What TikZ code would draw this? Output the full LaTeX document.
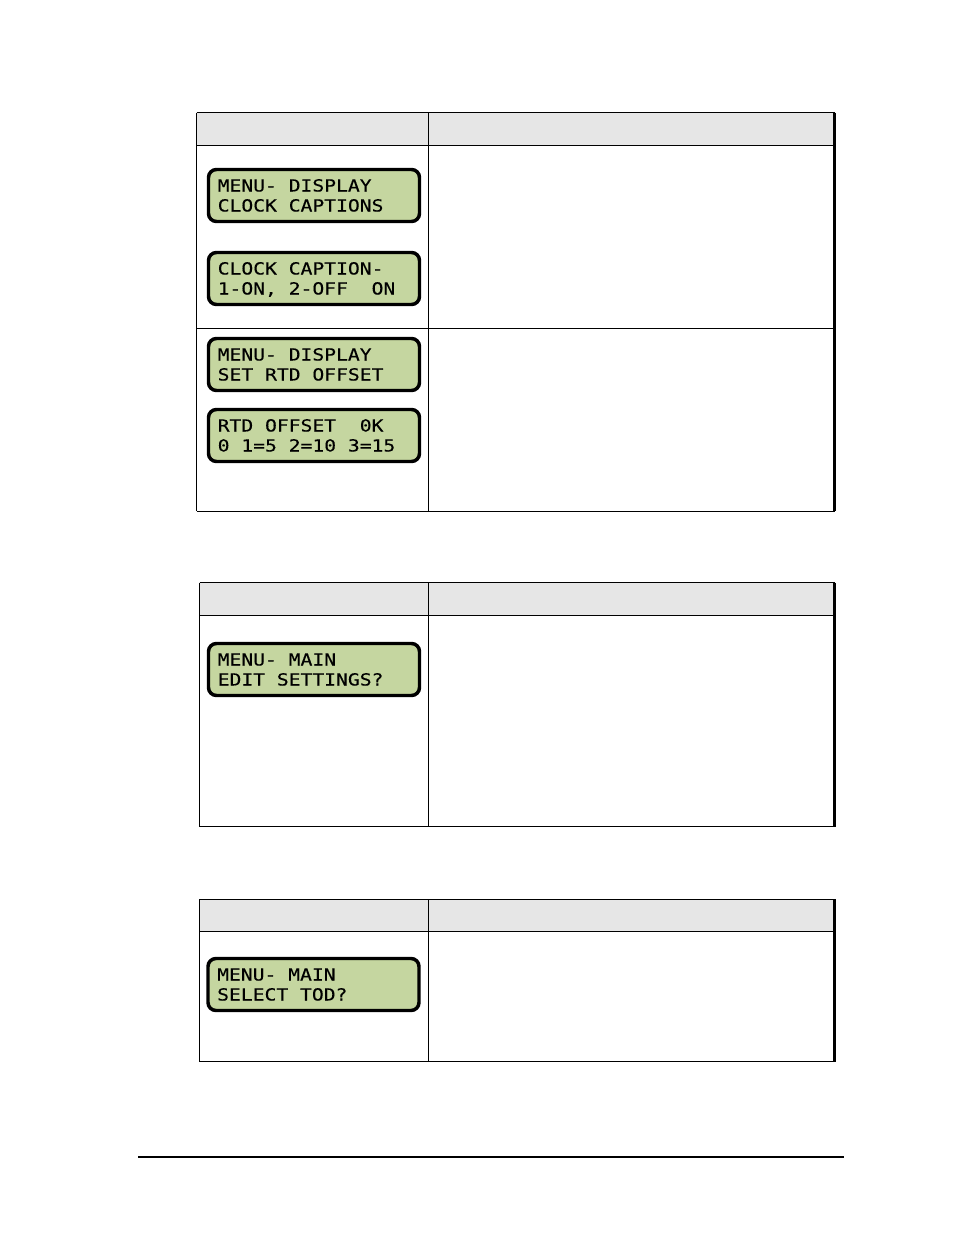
\documentclass[tikz,border=0pt]{standalone}
\usepackage{fontspec}
\newfontfamily\lcdfont[FakeStretch=1.18,FakeBold=0.3]{DejaVu Sans Mono}
\newcommand{\lcdsize}{\lcdfont\fontsize{12.5pt}{15pt}\selectfont}
\definecolor{lcdgreen}{RGB}{197,214,160}
\definecolor{headgray}{RGB}{230,230,230}
\tikzset{
  lcd/.style={draw, line width=2.6pt, rounded corners=6pt, fill=lcdgreen,
    anchor=north west, outer sep=0pt, minimum width=158.25pt,
    minimum height=39pt, inner xsep=6.9pt, inner ysep=0pt,
    text width=144.45pt, align=flush left, text height=9pt, text depth=15pt,
    font=\lcdsize},
  grid/.style={line width=0.75pt},
  edge/.style={line width=1.6pt}
}

\begin{document}
\begin{tikzpicture}[x=0.75pt,y=-0.75pt]
\useasboundingbox (0,0) rectangle (954,1235);

% first table: display menu
\fill[headgray] (196.5,112.5) rectangle (834.5,145);
\draw[grid] (196.5,112.5) -- (834.5,112.5);
\draw[grid] (196.5,145) -- (834.5,145);
\draw[grid] (196.5,328.5) -- (834.5,328.5);
\draw[grid] (196.5,511) -- (834.5,511);
\draw[grid] (196.5,112.5) -- (196.5,511);
\draw[grid] (428,112.5) -- (428,511);
\draw[edge] (834.5,112.5) -- (834.5,511);

\node[lcd] (capt-menu) at (208.5,169.5) {MENU- DISPLAY\\CLOCK CAPTIONS};
\node[lcd] (capt-set) at (208.5,252.5) {CLOCK CAPTION-\\1-ON, 2-OFF~~ON};
\node[lcd] (rtd-menu) at (208.5,338.5) {MENU- DISPLAY\\SET RTD OFFSET};
\node[lcd] (rtd-set) at (208.5,409.5) {RTD OFFSET~~0K\\0 1=5 2=10 3=15};

% second table: edit settings
\fill[headgray] (199.5,582.5) rectangle (834.5,615);
\draw[grid] (199.5,582.5) -- (834.5,582.5);
\draw[grid] (199.5,615) -- (834.5,615);
\draw[grid] (199.5,826.5) -- (834.5,826.5);
\draw[grid] (199.5,582.5) -- (199.5,826.5);
\draw[grid] (428,582.5) -- (428,826.5);
\draw[edge] (834.5,582.5) -- (834.5,826.5);

\node[lcd] (edit-menu) at (208.5,643.5) {MENU- MAIN\\EDIT SETTINGS?};

% third table: time of day
\fill[headgray] (199.5,899) rectangle (834.5,931.5);
\draw[grid] (199.5,899) -- (834.5,899);
\draw[grid] (199.5,931.5) -- (834.5,931.5);
\draw[grid] (199.5,1061.5) -- (834.5,1061.5);
\draw[grid] (199.5,899) -- (199.5,1061.5);
\draw[grid] (428,899) -- (428,1061.5);
\draw[edge] (834.5,899) -- (834.5,1061.5);

\node[lcd] (tod-menu) at (208,958.5) {MENU- MAIN\\SELECT TOD?};

% footer rule
\draw[line width=1.1pt] (138,1157) -- (844,1157);
\end{tikzpicture}
\end{document}
